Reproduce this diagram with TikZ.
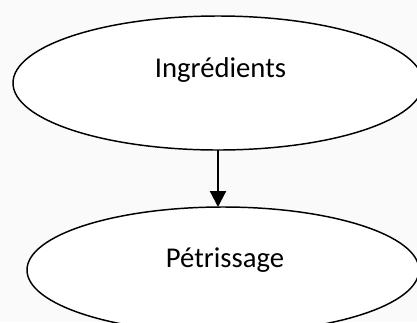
\documentclass[tikz,border=0pt]{standalone}
\usepackage{fontspec}
\setmainfont{Carlito}
\usetikzlibrary{shapes.geometric,arrows.meta}
\definecolor{bg}{HTML}{FAFAFA}
\begin{document}
\begin{tikzpicture}[x=0.75pt,y=-0.75pt,
  ell/.style={ellipse,draw=black,line width=1.1pt,fill=white,inner sep=0pt,outer sep=0pt},
  lbl/.style={anchor=base,inner sep=0pt,font=\fontsize{21.5}{24}\selectfont,text=black},
  arr/.style={line width=1.6pt,-{Triangle[length=12pt,width=12pt]}}]
\useasboundingbox (0,0) rectangle (417,322);
\fill[bg] (0,0) rectangle (417,322);
\clip (0,0) rectangle (417,322);
\node[ell,minimum width=307.5pt,minimum height=100.5pt] (a) at (218,83) {};
\node[ell,minimum width=294pt,minimum height=94.5pt] (b) at (223,270) {};
\node[lbl] (ta) at (220.5,77) {Ingrédients};
\node[lbl] (tb) at (225,267) {Pétrissage};
\draw[arr] (a.south) -- (a.south |- b.north);
\end{tikzpicture}
\end{document}
